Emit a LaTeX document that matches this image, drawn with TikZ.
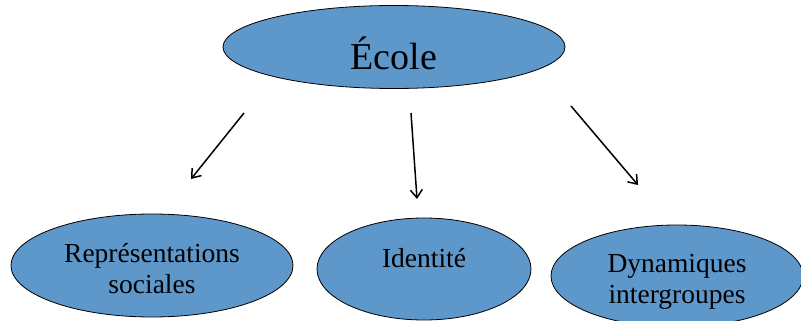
\documentclass[tikz,border=0pt]{standalone}
\usepackage{fontspec}
\setmainfont{Liberation Serif}
\usetikzlibrary{shapes.geometric,arrows.meta}
\definecolor{ovalblue}{HTML}{5E97CA}
\begin{document}
\begin{tikzpicture}[x=1pt,y=-1pt,
  oval/.style={ellipse,draw=black,line width=0.8pt,fill=ovalblue,inner sep=0pt,align=center,
    font=\fontsize{27.5pt}{31pt}\selectfont},
  arr/.style={line width=1.5pt,-{Straight Barb[length=8pt,width=12pt,line width=1.5pt]}}]
\useasboundingbox (0,0) rectangle (801,321);
\node[oval,minimum width=342pt,minimum height=83pt,font=\fontsize{38pt}{44pt}\selectfont,
  text height=46pt,text depth=0pt] (ecole) at (394,47) {École};
\node[oval,minimum width=282pt,minimum height=103pt,text height=55pt,text depth=0pt]
  (rep) at (152,265.5) {Représentations\\sociales};
\node[oval,minimum width=214pt,minimum height=102pt,text height=20pt,text depth=24pt]
  (ident) at (424,269) {Identité};
\node[oval,minimum width=252pt,minimum height=102pt,text height=54pt,text depth=0pt]
  (dyn) at (677,276) {Dynamiques\\intergroupes};
\coordinate (a1s) at (244,113);
\coordinate (a1e) at (191,179);
\coordinate (a2s) at (411,113);
\coordinate (a2e) at (417,199);
\coordinate (a3s) at (571,106);
\coordinate (a3e) at (638,185);
\draw[arr] (a1s) -- (a1e);
\draw[arr] (a2s) -- (a2e);
\draw[arr] (a3s) -- (a3e);
\end{tikzpicture}
\end{document}
